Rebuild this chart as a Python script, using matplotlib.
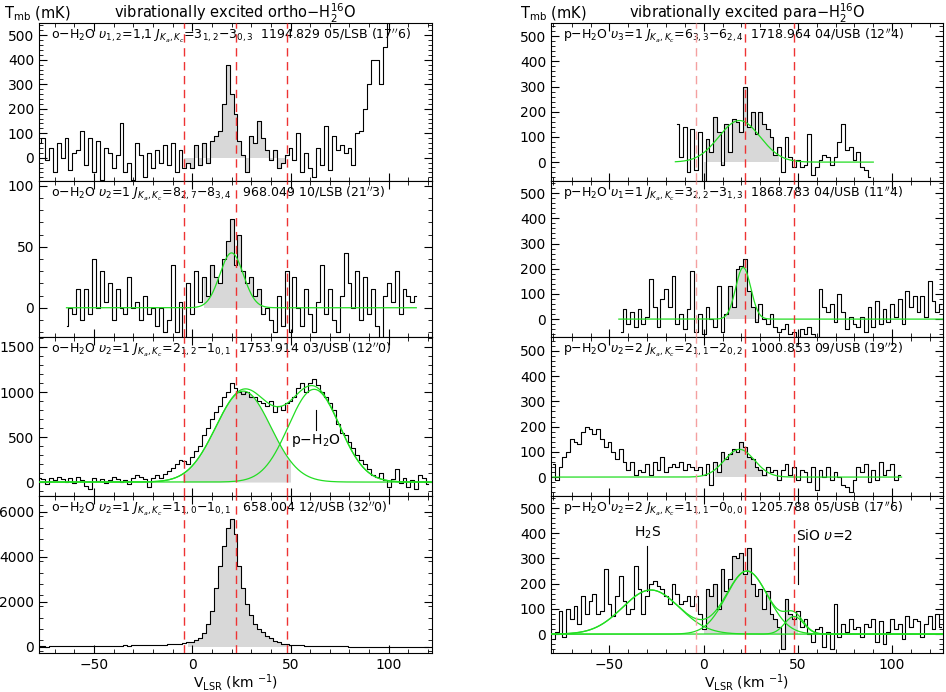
import numpy as np
import matplotlib
matplotlib.use("Agg")
import matplotlib.pyplot as plt

# ---------------- data ----------------
o1_v0 = -78
o1_T = [60,80,-10,40,-60,60,0,80,-50,20,30,110,-30,80,-60,70,-90,40,20,-40,10,140,-60,-20,-90,60,10,-80,20,-40,30,-20,50,-30,60,
        -60,30,-40,-20,-40,50,-30,60,-20,
        70,90,110,220,380,260,180,70,10,-60,90,60,150,80,30,-10,
        30,-40,-20,10,40,-10,100,-60,20,-40,-80,40,-30,130,-50,90,30,50,20,40,
        -30,100,110,200,300,400,400,300,450,550,650]
o2_v0 = -64
o2_T = [-15,0,-5,15,-10,15,-5,40,0,30,5,20,-10,15,0,-5,25,0,5,-10,10,-5,0,-15,0,-20,-10,35,-20,5,
        -25,20,-5,30,5,25,10,35,25,20,40,55,73,35,60,30,20,25,10,15,-5,0,-10,
        -20,10,-15,30,-20,25,0,-15,15,-5,-20,5,35,-5,15,-10,-20,10,45,20,0,30,-10,25,-5,15,-15,-25,10,20,5,30,-5,15,10,5,10]
o3_v0 = -78
o3_T = [50,30,-20,40,20,60,30,0,50,-10,60,20,-40,-80,40,10,30,-10,20,60,30,0,20,-20,40,80,60,30,-60,50,80,40,90,120,160,
        200,250,230,200,280,350,400,520,600,700,780,850,950,1000,1100,1050,1000,980,1000,950,
        950,900,880,850,900,780,850,800,880,900,950,1050,1100,1000,1100,
        1150,1080,1000,950,880,800,650,550,520,450,380,300,250,200,150,80,60,100,20,-50,
        30,150,-10,40,-50,20,-80,80,50,-20]
o4_v0 = -78
o4_T = [30,40,20,40,30,50,30,40,40,30,50,40,30,50,40,60,40,50,50,60,60,50,70,60,70,70,80,80,90,90,100,100,110,120,130,
        140,150,170,200,240,300,400,600,1000,1600,2600,3600,4500,5300,5700,5000,3600,2600,1900,1400,1000,800,650,500,380,280,200,150,120,100,
        90,80,70,60,60,50,50,40,40,40,30,30,30,30,20,20,20,20,20,10,20,10,10,10,10,0,10,0,10,0,10,0,0,10,0]
p1_v0 = -14
p1_T = [150,20,140,-40,130,-30,120,
        -80,90,40,180,120,-10,150,40,170,160,120,300,140,200,110,200,150,130,100,30,60,
        -40,100,20,-20,10,-20,-10,110,-50,-20,10,30,20,-10,20,80,150,50,60,10,40,-20,-30,-60]
p2_v0 = -44
p2_T = [-50,40,-20,30,-30,40,-20,10,160,50,-30,80,120,50,170,-20,20,-40,40,190,
        -50,20,-60,50,0,-30,130,-50,20,130,50,200,210,240,110,50,-10,60,0,-20,20,-30,-50,
        -40,-20,-60,-50,-70,-40,-60,-30,-60,-70,120,50,30,60,-10,100,30,-40,10,-20,-30,10,-50,50,-30,70,-20,40,-10,60,10,80,-20,110,50,90,30,90,10,150,70,30,60]
p3_v0 = -80
p3_T = [50,-10,40,80,100,150,140,130,180,200,190,170,190,150,120,140,100,70,110,60,30,
        60,10,30,20,50,10,60,30,80,20,40,50,40,60,30,50,40,30,40,
        10,50,-30,60,20,100,70,90,110,100,140,120,80,70,40,30,10,40,20,30,-10,
        30,50,10,40,-10,30,20,-20,40,-50,30,0,40,-10,20,0,-30,-40,-60,-10,40,20,50,-20,30,-10,60,10,30,50,-10,10]
p4_v0 = -80
p4_T = [-20,10,90,-10,100,60,110,40,150,80,130,160,80,90,260,120,70,150,230,130,80,
        100,270,180,80,150,200,210,190,180,150,120,200,160,120,130,150,110,150,80,
        20,180,150,200,100,260,170,220,310,300,320,240,340,200,150,180,100,170,80,60,30,-60,140,80,60,90,
        30,60,0,-30,20,30,-50,10,-60,120,-10,40,10,60,20,30,-10,40,30,60,-30,50,-40,10,60,20,40,-20,70,30,60,50,-10,40,70,20,80,30]

# gaussian fit components (amp, centre, sigma)
o2_fit = [(45, 20, 6)]
o3_fit = [(1010, 26, 14), (1030, 62, 13)]
p1_fit = [(165, 19, 11)]
p2_fit = [(205, 21, 4)]
p3_fit = [(110, 19, 8)]
p4_fit = [(175, -28, 15), (250, 23, 11), (70, 48, 5)]

labels_o = [r"o$-$H$_2$O $\upsilon_{1,2}$=1,1 $J_{K_a,K_c}$=3$_{1,2}$$-$3$_{0,3}$  1194.829 05/LSB (17$''$6)",
            r"o$-$H$_2$O $\upsilon_2$=1 $J_{K_a,K_c}$=8$_{2,7}$$-$8$_{3,4}$   968.049 10/LSB (21$''$3)",
            r"o$-$H$_2$O $\upsilon_2$=1 $J_{K_a,K_c}$=2$_{1,2}$$-$1$_{0,1}$  1753.914 03/USB (12$''$0)",
            r"o$-$H$_2$O $\upsilon_2$=1 $J_{K_a,K_c}$=1$_{1,0}$$-$1$_{0,1}$   658.004 12/USB (32$''$0)"]
labels_p = [r"p$-$H$_2$O $\upsilon_3$=1 $J_{K_a,K_c}$=6$_{3,3}$$-$6$_{2,4}$  1718.964 04/USB (12$''$4)",
            r"p$-$H$_2$O $\upsilon_1$=1 $J_{K_a,K_c}$=3$_{2,2}$$-$3$_{1,3}$  1868.783 04/USB (11$''$4)",
            r"p$-$H$_2$O $\upsilon_2$=2 $J_{K_a,K_c}$=2$_{1,1}$$-$2$_{0,2}$  1000.853 09/USB (19$''$2)",
            r"p$-$H$_2$O $\upsilon_2$=2 $J_{K_a,K_c}$=1$_{1,1}$$-$0$_{0,0}$  1205.788 05/USB (17$''$6)"]
vlines = [-4, 22, 48]

# ---------------- plotting ----------------
plt.rcParams["font.family"] = "DejaVu Sans"
plt.rcParams["mathtext.fontset"] = "dejavusans"
fig = plt.figure(figsize=(9.46, 6.92), dpi=100)
W, H = 946, 692
rows = [23, 181, 337, 496, 653]

def gauss(x, comps):
    return sum(a*np.exp(-0.5*((x-c)/s)**2) for a, c, s in comps)

def make_ax(x0, x1, r):
    return fig.add_axes([x0/W, 1-rows[r+1]/H, (x1-x0)/W, (rows[r+1]-rows[r])/H])

def style(ax, xlim, ylim, major, minor, last):
    ax.set_xticks([-50, 0, 50, 100])
    ax.set_xticks(np.arange(-80, 130, 10), minor=True)
    ax.set_yticks(np.arange(0, ylim[1], major))
    ax.set_yticks(np.arange(-200, ylim[1], minor), minor=True)
    ax.set_xlim(*xlim); ax.set_ylim(*ylim)
    ax.tick_params(which="both", direction="in", top=True, right=True, labelsize=10)
    ax.tick_params(which="major", length=6)
    ax.tick_params(which="minor", length=3)
    if not last:
        ax.tick_params(labelbottom=False)
    else:
        ax.set_xlabel(r"V$_{\rm LSR}$ (km $^{-1}$)", fontsize=10, labelpad=0)

def spec(ax, v0, T, fillrange=None):
    T = np.array(T, float)
    v = v0 + 2.0*np.arange(len(T))
    ax.step(v, T, where="mid", color="black", lw=0.8, zorder=3)
    if fillrange is not None:
        m = (v >= fillrange[0]) & (v <= fillrange[1])
        ax.fill_between(v[m], 0, T[m], step="mid", color="#d8d8d8", lw=0, zorder=1)
    return v

def fit(ax, comps, xr, each=False):
    x = np.linspace(xr[0], xr[1], 600)
    ax.plot(x, gauss(x, comps), color="#22dd22", lw=0.9, zorder=4)
    if each:
        for c in comps:
            ax.plot(x, gauss(x, [c]), color="#22dd22", lw=0.9, zorder=4)

def vl(ax, colors):
    for xv, c in zip(vlines, colors):
        ax.axvline(xv, color=c, ls=(0, (6, 4)), lw=1.0, zorder=5)

L0, L1, R0, R1 = 39, 432, 551, 943
xl = (-78, 122); xr = (-81, 127)
lc = ["#ee3333"]*3
rc = ["#f4a0a0", "#ee3333", "#ee3333"]
FS = 9

def lab(ax, s):
    ax.text(0.03, 0.92, s, transform=ax.transAxes, fontsize=FS, va="center")

# left column
ax = make_ax(L0, L1, 0)
spec(ax, o1_v0, o1_T, (-5, 48))
style(ax, xl, (-95, 550), 100, 20, False); vl(ax, lc)
lab(ax, labels_o[0])
ax.text(0.5, 1.03, r"vibrationally excited ortho$-$H$_2^{16}$O", transform=ax.transAxes, ha="center", fontsize=10.5)
ax.text(-0.09, 1.03, r"T$_{\rm mb}$ (mK)", transform=ax.transAxes, fontsize=10.5)

ax = make_ax(L0, L1, 1)
spec(ax, o2_v0, o2_T, (6, 36))
fit(ax, o2_fit, (-64, 114))
style(ax, xl, (-24, 104), 50, 10, False); vl(ax, lc)
lab(ax, labels_o[1])

ax = make_ax(L0, L1, 2)
x = np.linspace(-5, 50, 300)
ax.fill_between(x, 0, gauss(x, [o3_fit[0]]), color="#d8d8d8", lw=0, zorder=1)
spec(ax, o3_v0, o3_T)
fit(ax, o3_fit, (-78, 122), each=True)
style(ax, xl, (-155, 1611), 500, 100, False); vl(ax, lc)
lab(ax, labels_o[2])
ax.plot([63, 63], [580, 800], color="black", lw=0.8)
ax.text(63, 420, r"p$-$H$_2$O", ha="center", fontsize=10)

ax = make_ax(L0, L1, 3)
spec(ax, o4_v0, o4_T, (-2, 50))
style(ax, xl, (-267, 6711), 2000, 500, True); vl(ax, lc)
lab(ax, labels_o[3])

# right column
ax = make_ax(R0, R1, 0)
spec(ax, p1_v0, p1_T, (0, 40))
fit(ax, p1_fit, (-15, 90))
style(ax, xr, (-75, 552), 100, 20, False); vl(ax, rc)
lab(ax, labels_p[0])
ax.text(0.5, 1.03, r"vibrationally excited para$-$H$_2^{16}$O", transform=ax.transAxes, ha="center", fontsize=10.5)
ax.text(-0.08, 1.03, r"T$_{\rm mb}$ (mK)", transform=ax.transAxes, fontsize=10.5)

ax = make_ax(R0, R1, 1)
spec(ax, p2_v0, p2_T, (12, 30))
fit(ax, p2_fit, (-45, 127))
style(ax, xr, (-71, 548), 100, 20, False); vl(ax, rc)
lab(ax, labels_p[1])

ax = make_ax(R0, R1, 2)
spec(ax, p3_v0, p3_T, (6, 34))
fit(ax, p3_fit, (-80, 105))
style(ax, xr, (-75, 555), 100, 20, False); vl(ax, rc)
lab(ax, labels_p[2])

ax = make_ax(R0, R1, 3)
spec(ax, p4_v0, p4_T, (0, 50))
fit(ax, p4_fit, (-81, 127), each=True)
style(ax, xr, (-75, 548), 100, 20, True); vl(ax, rc)
lab(ax, labels_p[3])
ax.plot([-30, -30], [170, 350], color="black", lw=0.8)
ax.text(-30, 385, r"H$_2$S", ha="center", fontsize=10)
ax.plot([50, 50], [200, 350], color="black", lw=0.8)
ax.text(49, 375, r"SiO $\upsilon$=2", ha="left", fontsize=10)

fig.savefig("out.png", dpi=100)
